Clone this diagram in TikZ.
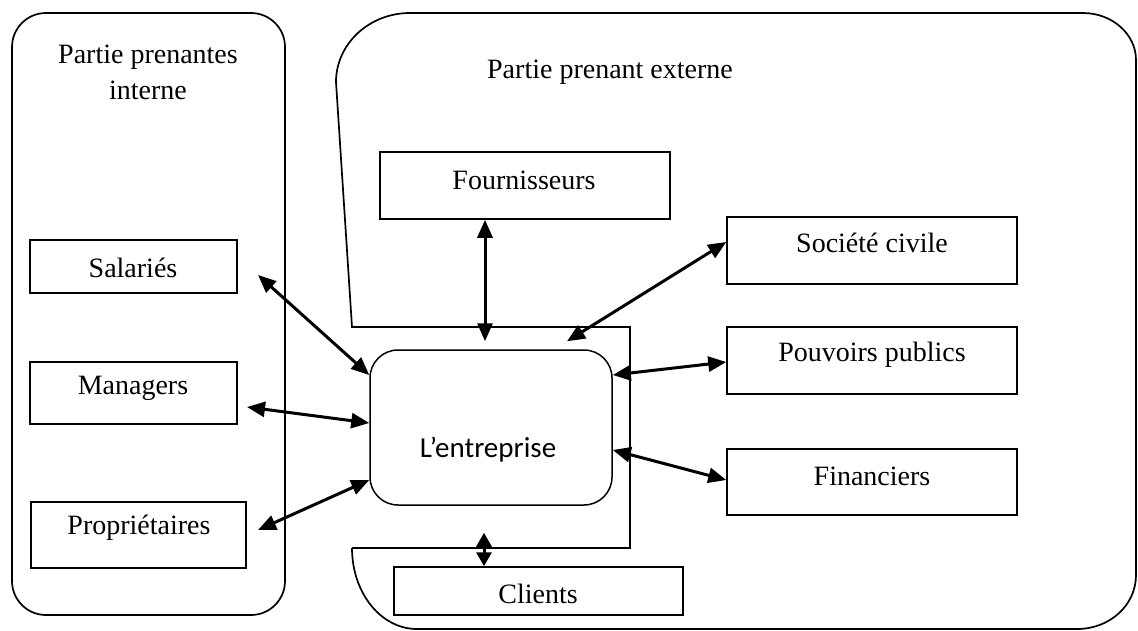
\documentclass[tikz,border=0pt]{standalone}
\usepackage{fontspec}
\setmainfont{Liberation Serif}
\newfontfamily\entfont{Carlito}
\usetikzlibrary{arrows.meta,calc}
\begin{document}
\begin{tikzpicture}[x=1pt,y=-1pt,
  box/.style={draw,line width=1.5pt,inner sep=0pt},
  lbl/.style={font=\fontsize{28}{36}\selectfont,inner sep=0pt},
  outline/.style={line width=1.7pt},
  link/.style={line width=3pt,
    {Triangle[length=18pt,width=15pt]}-{Triangle[length=18pt,width=15pt]}},
  shortlink/.style={line width=3pt,
    {Triangle[length=14pt,width=15pt]}-{Triangle[length=14pt,width=15pt]}}]
\useasboundingbox (0,0) rectangle (1138,630);

% internal stakeholders frame
\draw[outline,rounded corners=34pt] (12,13) rectangle (285,615);
\node[lbl,align=center] (inttitle) at (148,72) {Partie prenantes\\interne};

% external stakeholders frame
\draw[outline] (352,548) -- (630,548) -- (630,327) -- (352,327) -- (336,82)
  .. controls (336,44) and (369,13) .. (410,13)
  -- (1083,13)
  .. controls (1112,13) and (1136,34) .. (1136,60)
  -- (1136,575)
  .. controls (1136,605) and (1110,629) .. (1077,629)
  -- (417,629)
  .. controls (381,629) and (352,593) .. (352,548);
\node[lbl] (exttitle) at (610,72) {Partie prenant externe};

% internal boxes
\node[box,minimum width=207pt,minimum height=53pt] (sal) at (133.5,266.5) {};
\node[lbl] (salT) at (133,268) {Salariés};
\node[box,minimum width=207pt,minimum height=62pt] (man) at (133.5,393) {};
\node[lbl] (manT) at (133,388) {Managers};
\node[box,minimum width=215pt,minimum height=66pt] (pro) at (138.5,535) {};
\node[lbl] (proT) at (139,528) {Propriétaires};

% external boxes
\node[box,minimum width=290pt,minimum height=67pt] (four) at (525,185.5) {};
\node[lbl] (fourT) at (524,180) {Fournisseurs};
\node[box,minimum width=290pt,minimum height=67pt] (soc) at (872,250.5) {};
\node[lbl] (socT) at (872,243) {Société civile};
\node[box,minimum width=290pt,minimum height=67pt] (pouv) at (872,360.5) {};
\node[lbl] (pouvT) at (872,355) {Pouvoirs publics};
\node[box,minimum width=290pt,minimum height=66pt] (fin) at (872,482) {};
\node[lbl] (finT) at (872,476) {Financiers};
\node[box,minimum width=289pt,minimum height=48pt] (cli) at (538.5,591) {};
\node[lbl] (cliT) at (538,594) {Clients};

% the firm
\node[draw,line width=1.5pt,rounded corners=28pt,minimum width=242pt,
  minimum height=155pt,inner sep=0pt] (ent) at (491,427.5) {};
\node[font=\entfont\fontsize{29}{34}\selectfont,inner sep=0pt] (entT) at (488,450) {L’entreprise};

% free ends of the links on the internal side
\coordinate (salA) at (258,275);
\coordinate (manA) at (247,407);
\coordinate (proA) at (258,530);

% links
\draw[link] (salA) -- ($(ent.west)+(0,-52.5)$);
\draw[link] (manA) -- ($(ent.west)+(0,-4.5)$);
\draw[link] (proA) -- ($(ent.west)+(0,52.5)$);
\draw[link] ($(four.south)+(-40,0)$) -- ($(ent.north)+(-6,-8)$);
\draw[link] ($(soc.west)+(0,-8.5)$) -- ($(ent.north)+(76,-8)$);
\draw[link] ($(pouv.west)+(0,1.5)$) -- ($(ent.east)+(0,-52.5)$);
\draw[link] ($(fin.west)+(0,-2)$) -- ($(ent.east)+(0,22.5)$);
\draw[shortlink] ($(cli.north)+(-54.5,0)$) -- ($(ent.south)+(-7,27)$);
\end{tikzpicture}
\end{document}
